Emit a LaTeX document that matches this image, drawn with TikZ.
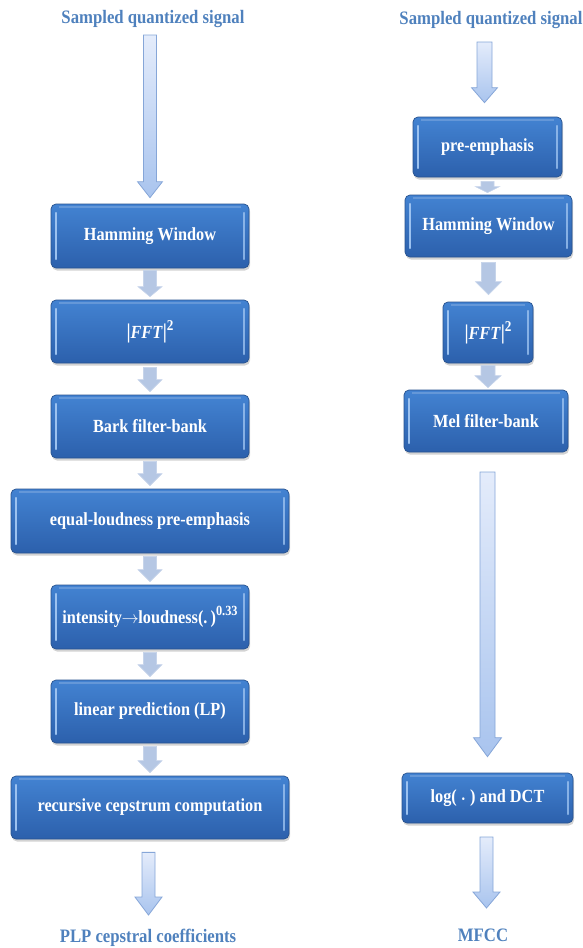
\documentclass[tikz,border=0pt]{standalone}
\usepackage{fontspec}
\setmainfont{Liberation Serif}
\newfontfamily\tfont{Liberation Serif}[FakeStretch=0.88]
\usetikzlibrary{calc,shadows}
\definecolor{titleblue}{HTML}{4F81BD}
\definecolor{boxtop}{HTML}{4383D2}
\definecolor{boxbot}{HTML}{2C60AC}
\definecolor{boxborder}{HTML}{28528E}
\definecolor{boxlight}{HTML}{9CC2F0}
\definecolor{arrtop}{HTML}{E4ECFB}
\definecolor{arrbot}{HTML}{A9C4EE}
\definecolor{arrline}{HTML}{86A6D8}
\definecolor{sarr}{HTML}{B5C7E4}
\definecolor{sarrline}{HTML}{C6D4EA}
\tikzset{
  titletext/.style={font=\tfont\bfseries\fontsize{19}{21}\selectfont, text=titleblue, inner sep=0pt},
  procbox/.style={rounded corners=5pt, draw=boxborder, line width=0.7pt,
    top color=boxtop, bottom color=boxbot, text=white,
    font=\tfont\bfseries\fontsize{18.5}{20}\selectfont, inner sep=0pt,
    drop shadow={opacity=0.35, shadow xshift=1pt, shadow yshift=-2.5pt},
    path picture={
      \draw[boxlight, line width=2.2pt, line cap=round]
        ([xshift=5pt,yshift=-9pt]path picture bounding box.north west) --
        ([xshift=5pt,yshift=9pt]path picture bounding box.south west);
      \draw[boxlight, line width=2.2pt, line cap=round, opacity=0.8]
        ([xshift=-5pt,yshift=-9pt]path picture bounding box.north east) --
        ([xshift=-5pt,yshift=9pt]path picture bounding box.south east);
      \draw[white, opacity=0.18, line width=1.2pt]
        ([xshift=8pt,yshift=-3pt]path picture bounding box.north west) --
        ([xshift=-8pt,yshift=-3pt]path picture bounding box.north east);
    }},
  bigarrow/.style={top color=arrtop, bottom color=arrbot, draw=arrline, line width=0.8pt, line join=miter},
  smallarrow/.style={fill=sarr, draw=sarrline, line width=0.6pt, line join=miter}
}
\newcommand\fftsq{{\fontsize{21}{21}\selectfont|}\textit{FFT}{\fontsize{21}{21}\selectfont|}\raisebox{0.9ex}{\fontsize{15}{15}\selectfont 2}}
% #1 style, #2 start, #3 tip, #4 half shaft, #5 half head, #6 head length
\newcommand\blockarrow[6]{%
  \path[#1] let \p1=(#2), \p2=(#3) in
    (\x1-#4pt,\y1) -- (\x1+#4pt,\y1) -- (\x1+#4pt,\y2+#6pt) -- (\x1+#5pt,\y2+#6pt)
    -- (\x1,\y2) -- (\x1-#5pt,\y2+#6pt) -- (\x1-#4pt,\y2+#6pt) -- cycle;}
\begin{document}
\begin{tikzpicture}[x=1pt,y=-1pt]
\useasboundingbox (0,0) rectangle (583,948);
% ---------- left column ----------
\node[titletext] (t1) at (153,19) {Sampled quantized signal};
\node[procbox, minimum width=198pt, minimum height=64pt] (hw1) at (150,236) {Hamming Window};
\node[procbox, minimum width=198pt, minimum height=63pt] (fft1) at (150,331.5) {\fftsq};
\node[procbox, minimum width=198pt, minimum height=63pt] (bark) at (150,426.5) {Bark filter-bank};
\node[procbox, minimum width=278pt, minimum height=64pt] (eql) at (150,521) {equal-loudness pre-emphasis};
\node[procbox, minimum width=198pt, minimum height=64pt] (int) at (150,617) {intensity\hspace{-0.5pt}$\rightarrow$\hspace{-0.5pt}loudness(.\,)\raisebox{1.0ex}{\fontsize{14}{14}\selectfont 0.33}};
\node[procbox, minimum width=198pt, minimum height=63pt] (lp) at (150,711.5) {linear prediction (LP)};
\node[procbox, minimum width=278pt, minimum height=63pt] (rec) at (150,807.5) {recursive cepstrum computation};
\node[titletext] (plp) at (148,937.5) {PLP cepstral coefficients};
\coordinate (t1out) at (150,35);
\coordinate (plpin) at (148.5,915);
\blockarrow{bigarrow}{t1out}{[yshift=6pt]hw1.north}{6.5}{12.5}{16}
\blockarrow{smallarrow}{[yshift=-2pt]hw1.south}{[yshift=3pt]fft1.north}{6.5}{12}{10}
\blockarrow{smallarrow}{[yshift=-4pt]fft1.south}{[yshift=3pt]bark.north}{6.5}{12}{12}
\blockarrow{smallarrow}{[yshift=-3pt]bark.south}{[yshift=3pt]eql.north}{6.5}{12}{12}
\blockarrow{smallarrow}{[yshift=-3pt]eql.south}{[yshift=3pt]int.north}{6.5}{12}{12}
\blockarrow{smallarrow}{[yshift=-3pt]int.south}{[yshift=3pt]lp.north}{6.5}{12}{12}
\blockarrow{smallarrow}{[yshift=-3pt]lp.south}{[yshift=3pt]rec.north}{6.5}{12}{12}
\path let \p1=([yshift=-13pt]rec.south) in coordinate (recout) at (148.5,\y1);
\blockarrow{bigarrow}{recout}{plpin}{6.5}{13.5}{18}
% ---------- right column ----------
\node[titletext] (t2) at (491,20) {Sampled quantized signal};
\node[procbox, minimum width=149pt, minimum height=60pt] (pre) at (487.5,147) {pre-emphasis};
\node[procbox, minimum width=167pt, minimum height=62pt] (hw2) at (488.5,226) {Hamming Window};
\node[procbox, minimum width=90pt, minimum height=61pt] (fft2) at (488,332.5) {\fftsq};
\node[procbox, minimum width=164pt, minimum height=62pt] (mel) at (486,421) {Mel filter-bank};
\node[procbox, minimum width=171pt, minimum height=50pt] (log) at (487.5,798) {log(\;{\fontsize{10}{10}\selectfont•}\;) and DCT};
\node[titletext] (mfcc) at (483,935) {MFCC};
\coordinate (t2out) at (484.5,42);
\coordinate (mfccin) at (486.5,908);
\coordinate (melout) at (487.5,472);
\coordinate (logout) at (486.5,837);
\blockarrow{bigarrow}{t2out}{[yshift=14pt]pre.north}{7.5}{13}{15}
\blockarrow{smallarrow}{[yshift=-4pt]pre.south}{[yshift=2pt]hw2.north}{6.5}{12}{6}
\blockarrow{smallarrow}{[yshift=-5pt]hw2.south}{[yshift=7pt]fft2.north}{7}{13}{13}
\blockarrow{smallarrow}{[yshift=-2pt]fft2.south}{[yshift=2pt]mel.north}{7}{13}{12}
\blockarrow{bigarrow}{melout}{[yshift=16pt]log.north}{7.5}{14}{19}
\blockarrow{bigarrow}{logout}{mfccin}{6.5}{13.5}{16}
\end{tikzpicture}
\end{document}
